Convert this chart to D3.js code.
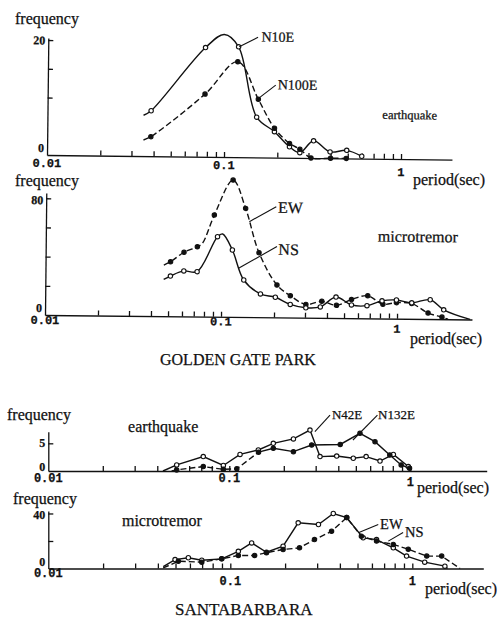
<!DOCTYPE html>
<html>
<head>
<meta charset="utf-8">
<style>
  body { margin: 0; background: #fff; }
  svg text { font-family: "Liberation Serif", "Times New Roman", serif; fill: #111; }
  .lbl { stroke: #111; stroke-width: 0.25px; }
  .num { font-family: "Liberation Mono", monospace; font-weight: bold; font-size: 12px; }
  .ynum { font-weight: bold; font-size: 12px; }
  .axis path, .axis line { stroke: #111; stroke-width: 1.3px; }
  .curve { fill: none; stroke: #111; stroke-width: 1.4px; }
  .dash { stroke-dasharray: 6, 3; }
  .leader { stroke: #111; stroke-width: 1.1px; }
</style>
</head>
<body>
<svg class="fig" width="503" height="618"></svg>
<script src="https://cdn.jsdelivr.net/npm/d3@7"></script>
<script>

/*Values: period (sec) and frequency for every curve.
"Bare" lists the points that are part of the line but carry no marker.*/

// Golden Gate Park, earthquake
var ggpEqN10EPeriod = [0.0349, 0.0385, 0.0774, 0.0987, 0.119, 0.152, 0.192, 0.234, 0.268, 0.32, 0.397, 0.493, 0.6];
var ggpEqN10E = [7.1, 7.9, 19.0, 21.3, 19.2, 7.0, 4.5, 1.9, 0.9, 3.0, 1.1, 1.4, 0.4];
var ggpEqN10EBare = [0, 3];
var ggpEqN100EPeriod = [0.035, 0.0385, 0.0774, 0.118, 0.155, 0.192, 0.234, 0.268, 0.31, 0.4, 0.49];
var ggpEqN100E = [2.8, 3.4, 10.9, 16.6, 10.1, 5.1, 2.5, 1.5, 0, 0, 0];
var ggpEqN100EBare = [0];

// Golden Gate Park, microtremor
var ggpMtEWPeriod = [0.047, 0.0513, 0.0611, 0.0727, 0.0776, 0.0904, 0.115, 0.136, 0.163, 0.207, 0.247, 0.303, 0.373, 0.452, 0.55, 0.68, 0.83, 0.99, 1.21, 1.5, 1.8, 1.95];
var ggpMtEW = [35.1, 37.4, 44, 47.9, 50.3, 69.7, 93.8, 74.5, 44.2, 22.2, 15, 9.1, 11.4, 8.7, 12.8, 15.5, 9.8, 11, 10.5, 4.1, 1.4, 0];
var ggpMtEWBare = [0, 4, 21];
var ggpMtNSPeriod = [0.047, 0.0513, 0.0611, 0.0727, 0.0945, 0.101, 0.115, 0.134, 0.167, 0.203, 0.247, 0.303, 0.366, 0.449, 0.55, 0.674, 0.82, 0.99, 1.21, 1.54, 1.84, 2.6];
var ggpMtNS = [25.3, 27.6, 31.2, 30.8, 54.9, 56.8, 45.9, 25.4, 16, 13.8, 9, 6.8, 7.5, 14.4, 9.1, 8.7, 12.1, 12.8, 11, 13.2, 6.4, 0];
var ggpMtNSBare = [0, 5, 21];

// Santa Barbara, earthquake
var sbEqN42EPeriod = [0.043, 0.0512, 0.0718, 0.0927, 0.1146, 0.1446, 0.175, 0.226, 0.279, 0.317, 0.392, 0.484, 0.57, 0.68, 0.806, 0.975];
var sbEqN42E = [0, 1.1, 2.6, 1.0, 3.0, 3.8, 5.0, 5.8, 7.4, 2.6, 2.7, 2.3, 2.6, 1.8, 3.0, 0.8];
var sbEqN42EBare = [0];
var sbEqN132EPeriod = [0.048, 0.0512, 0.0718, 0.0927, 0.11, 0.145, 0.175, 0.226, 0.285, 0.41, 0.527, 0.638, 0.77, 0.89, 0.99];
var sbEqN132E = [0, 0.2, 0.8, 0.3, 0.4, 3.4, 4.1, 3.5, 4.7, 4.8, 6.8, 5.3, 2.9, 1.1, 0.5];
var sbEqN132EBare = [0];

// Santa Barbara, microtremor
var sbMtEWPeriod = [0.0428, 0.0497, 0.0588, 0.0697, 0.0897, 0.1107, 0.131, 0.158, 0.195, 0.236, 0.305, 0.368, 0.436, 0.537, 0.636, 0.786, 0.93, 1.17, 1.51, 1.56];
var sbMtEW = [1.3, 6.5, 7.8, 6, 7, 12.5, 18.6, 11.8, 16.2, 33.2, 32, 40, 37, 22.3, 21, 15, 9, 4.6, 1.7, 0];
var sbMtEWBare = [0, 19];
var sbMtNSPeriod = [0.0428, 0.0518, 0.0697, 0.0897, 0.1107, 0.136, 0.158, 0.195, 0.24, 0.29, 0.36, 0.436, 0.525, 0.636, 0.786, 0.95, 1.2, 1.45, 1.83];
var sbMtNS = [0.4, 5.3, 4.6, 7, 9.5, 9.5, 11.5, 13.8, 15, 21, 27, 37, 23.5, 20, 17.5, 14, 9, 9, 0];
var sbMtNSBare = [0, 18];

/*Axis ticks and their labels*/
var minorTicks = [0.02, 0.03, 0.04, 0.05, 0.06, 0.07, 0.08, 0.09, 0.1, 0.2, 0.3, 0.4, 0.5, 0.6, 0.7, 0.8, 0.9, 1];
var xTickValues = [0.01, 0.1, 1];
var xTickLabels = ["0.01", "0.1", "1"];

var svg = d3.select(".fig");

/*One panel = one log x axis, one linear y axis, two curves and a few notes.
The scan is slightly tilted in the upper half, so those panels get a small rotation.*/

function drawPanel(p) {
  var g = svg.append("g");
  if (p.tilt) g.attr("transform", "rotate(" + p.tilt + "," + p.left + "," + p.base + ")");

  var x = d3.scaleLog().domain([0.01, p.xMax]).range([p.left, p.right]),
      y = d3.scaleLinear().domain([0, p.yMax]).range([p.base, p.top]);

  g.append("g")
      .attr("class", "axis")
      .attr("transform", "translate(0," + p.base + ")")
      .call(d3.axisBottom(x).tickValues(minorTicks).tickSizeInner(-5).tickSizeOuter(0).tickFormat(""));

  g.append("g")
      .attr("class", "axis")
      .attr("transform", "translate(" + p.left + ",0)")
      .call(d3.axisLeft(y).tickValues(p.yTicks).tickSizeInner(-5).tickSizeOuter(0).tickFormat(""));

  g.selectAll(".xnum")
    .data(xTickValues)
    .enter().append("text")
      .attr("class", "num lbl")
      .attr("x", function(d) { return x(d); })
      .attr("y", function(d, i) { return p.base + p.xLabelDy[i] + 4; })
      .attr("text-anchor", "middle")
      .text(function(d, i) { return xTickLabels[i]; });

  g.selectAll(".ynum")
    .data(p.yLabels)
    .enter().append("text")
      .attr("class", "ynum lbl")
      .attr("x", p.left - 3)
      .attr("y", function(d, i) { return y(d) + p.yLabelDy[i] + 4; })
      .attr("text-anchor", "end")
      .text(function(d) { return d; });

  var line = d3.line()
      .x(function(d) { return x(d[0]); })
      .y(function(d) { return y(d[1]); })
      .curve(p.curve);

  p.series.forEach(function(s) {
    var pts = d3.zip(s.period, s.freq);
    if (s.dashTo) {
      g.append("path").attr("class", "curve dash").attr("d", line(pts.slice(0, s.dashTo + 1)));
      g.append("path").attr("class", "curve").attr("d", line(pts.slice(s.dashTo)));
    } else {
      g.append("path").attr("class", s.dashed ? "curve dash" : "curve").attr("d", line(pts));
    }
  });

  p.series.forEach(function(s) {
    var pts = d3.zip(s.period, s.freq).filter(function(d, i) { return s.bare.indexOf(i) < 0; });
    g.selectAll(null)
      .data(pts)
      .enter().append("circle")
        .attr("cx", function(d) { return x(d[0]); })
        .attr("cy", function(d) { return y(d[1]); })
        .attr("r", 2.2)
        .attr("fill", s.filled ? "#111" : "#fff")
        .attr("stroke", "#111")
        .attr("stroke-width", 1.1);
  });

  p.notes.forEach(function(n) {
    if (n.leader) {
      g.append("line")
        .attr("class", "leader")
        .attr("x1", x(n.leader[0][0])).attr("y1", y(n.leader[0][1]))
        .attr("x2", x(n.leader[1][0])).attr("y2", y(n.leader[1][1]));
    }
    g.append("text")
      .attr("class", "lbl")
      .attr("x", x(n.at[0]))
      .attr("y", y(n.at[1]) + 0.3 * n.size)
      .style("font-size", n.size + "px")
      .text(n.text);
  });
}

drawPanel({
  left: 47, right: 452, base: 155, top: 38, xMax: 1.941, yMax: 20.35, tilt: 0.65,
  yTicks: [10, 15, 20], yLabels: [0, 20], yLabelDy: [-7, 0.5], xLabelDy: [8, 8, 13],
  curve: d3.curveCatmullRom,
  series: [
    {period: ggpEqN10EPeriod, freq: ggpEqN10E, bare: ggpEqN10EBare, dashed: false, filled: false},
    {period: ggpEqN100EPeriod, freq: ggpEqN100E, bare: ggpEqN100EBare, dashed: true, filled: true}
  ],
  notes: [
    {text: "N10E", at: [0.16, 20.9], size: 14, leader: [[0.12, 19.2], [0.153, 20.9]]},
    {text: "N100E", at: [0.199, 12.6], size: 14, leader: [[0.156, 10.3], [0.194, 12.6]]},
    {text: "earthquake", at: [0.78, 7.6], size: 12.5}
  ]
});

drawPanel({
  left: 45, right: 472, base: 315, top: 193, xMax: 2.667, yMax: 83.6, tilt: 0.6,
  yTicks: [20, 40, 60, 80], yLabels: [0, 80], yLabelDy: [-7, 2], xLabelDy: [5, 4.5, 10],
  curve: d3.curveCatmullRom,
  series: [
    {period: ggpMtEWPeriod, freq: ggpMtEW, bare: ggpMtEWBare, dashed: true, filled: true},
    {period: ggpMtNSPeriod, freq: ggpMtNS, bare: ggpMtNSBare, dashed: false, filled: false}
  ],
  notes: [
    {text: "EW", at: [0.208, 75], size: 16, leader: [[0.143, 65.4], [0.203, 75.9]]},
    {text: "NS", at: [0.21, 46.2], size: 16, leader: [[0.125, 33.4], [0.206, 48.6]]},
    {text: "microtremor", at: [0.77, 56], size: 16}
  ]
});

drawPanel({
  left: 48.3, right: 486.7, base: 471, top: 431.7, xMax: 2.642, yMax: 7.1, tilt: 0,
  yTicks: [5], yLabels: [0, 5], yLabelDy: [-4.5, 0], xLabelDy: [7, 6.5, 11],
  curve: d3.curveLinear,
  series: [
    {period: sbEqN42EPeriod, freq: sbEqN42E, bare: sbEqN42EBare, dashed: false, filled: false},
    {period: sbEqN132EPeriod, freq: sbEqN132E, bare: sbEqN132EBare, dashTo: 5, filled: true}
  ],
  notes: [
    {text: "N42E", at: [0.369, 10.1], size: 13, leader: [[0.297, 7.1], [0.36, 10.1]]},
    {text: "N132E", at: [0.663, 10.1], size: 13, leader: [[0.482, 5.6], [0.658, 10.1]]},
    {text: "earthquake", at: [0.0276, 8], size: 16}
  ]
});

drawPanel({
  left: 48.3, right: 483.3, base: 568.5, top: 511, xMax: 2.455, yMax: 41.8, tilt: 0,
  yTicks: [20, 40], yLabels: [0, 40], yLabelDy: [-7, 1.5], xLabelDy: [4.5, 12, 12],
  curve: d3.curveLinear,
  series: [
    {period: sbMtEWPeriod, freq: sbMtEW, bare: sbMtEWBare, dashed: false, filled: false},
    {period: sbMtNSPeriod, freq: sbMtNS, bare: sbMtNSBare, dashed: true, filled: true}
  ],
  notes: [
    {text: "EW", at: [0.665, 32], size: 14.5, leader: [[0.505, 26], [0.65, 32]]},
    {text: "NS", at: [0.912, 26.2], size: 14.5, leader: [[0.738, 19.9], [0.89, 26.2]]},
    {text: "microtremor", at: [0.0254, 34.4], size: 16}
  ]
});

/*Axis titles and site names*/
var titles = [
  {text: "frequency", x: 15, y: 24},
  {text: "frequency", x: 15, y: 185.5},
  {text: "frequency", x: 7, y: 420},
  {text: "frequency", x: 13, y: 504},
  {text: "period(sec)", x: 413, y: 185},
  {text: "period(sec)", x: 410, y: 344},
  {text: "period(sec)", x: 417, y: 493},
  {text: "period(sec)", x: 425, y: 594}
];

svg.selectAll(".title")
  .data(titles)
  .enter().append("text")
    .attr("class", "title lbl")
    .attr("x", function(d) { return d.x; })
    .attr("y", function(d) { return d.y; })
    .style("font-size", "16px")
    .text(function(d) { return d.text; });

svg.append("text").attr("class", "lbl").attr("x", 160).attr("y", 365)
    .style("font-size", "16px").text("GOLDEN GATE PARK");
svg.append("text").attr("class", "lbl").attr("x", 175).attr("y", 615)
    .style("font-size", "17px").text("SANTABARBARA");

</script>
</body>
</html>
